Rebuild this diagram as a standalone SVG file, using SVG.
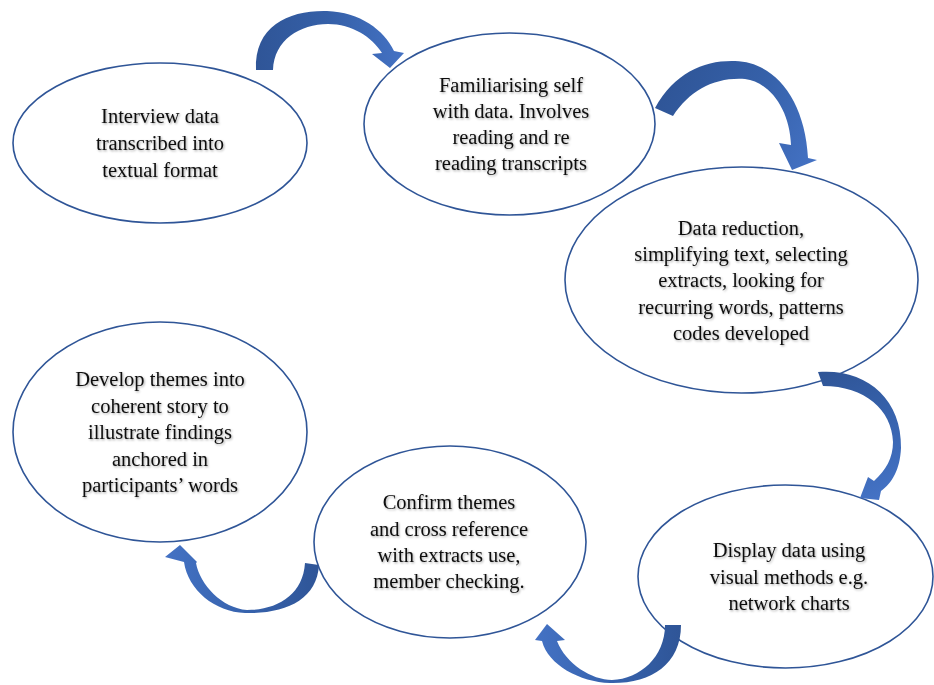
<svg xmlns="http://www.w3.org/2000/svg" width="934" height="685" viewBox="0 0 934 685">
  <style>
    .stage { fill: #ffffff; stroke: #2f5597; stroke-width: 1.6; }
    .label { font-family: "Liberation Serif", "Times New Roman", serif; font-size: 20.5px; fill: #111111; text-anchor: middle; filter: url(#soft); }
    .arrow { stroke: none; }
  </style>
  <defs>
    <filter id="soft" x="-10%" y="-30%" width="120%" height="160%">
      <feDropShadow dx="1" dy="1.2" stdDeviation="0.8" flood-color="#000000" flood-opacity="0.35"/>
    </filter>
    <linearGradient id="g1" gradientUnits="userSpaceOnUse" x1="256" y1="40" x2="404" y2="40">
      <stop offset="0" stop-color="#2f5597"/>
      <stop offset="0.5" stop-color="#3560a8"/>
      <stop offset="1" stop-color="#4472c4"/>
    </linearGradient>
    <linearGradient id="g2" gradientUnits="userSpaceOnUse" x1="660" y1="90" x2="815" y2="165">
      <stop offset="0" stop-color="#2f5597"/>
      <stop offset="0.5" stop-color="#3560a8"/>
      <stop offset="1" stop-color="#4472c4"/>
    </linearGradient>
    <linearGradient id="g3" gradientUnits="userSpaceOnUse" x1="820" y1="375" x2="870" y2="500">
      <stop offset="0" stop-color="#2f5597"/>
      <stop offset="0.5" stop-color="#3763ae"/>
      <stop offset="1" stop-color="#4472c4"/>
    </linearGradient>
    <linearGradient id="g4" gradientUnits="userSpaceOnUse" x1="681" y1="650" x2="535" y2="650">
      <stop offset="0" stop-color="#2f5597"/>
      <stop offset="0.5" stop-color="#3763ae"/>
      <stop offset="1" stop-color="#4472c4"/>
    </linearGradient>
    <linearGradient id="g5" gradientUnits="userSpaceOnUse" x1="319" y1="580" x2="165" y2="580">
      <stop offset="0" stop-color="#2f5597"/>
      <stop offset="0.5" stop-color="#3763ae"/>
      <stop offset="1" stop-color="#4472c4"/>
    </linearGradient>
  </defs>

  <rect width="934" height="685" fill="#ffffff"/>

  <g id="node-transcribe">
    <ellipse class="stage" cx="160" cy="143" rx="147" ry="80"/>
    <text class="label" x="160" y="123">Interview data</text>
    <text class="label" x="160" y="150">transcribed into</text>
    <text class="label" x="160" y="177">textual format</text>
  </g>

  <g id="node-familiarise">
    <ellipse class="stage" cx="509.5" cy="124" rx="145.5" ry="91"/>
    <text class="label" x="511" y="91.5">Familiarising self</text>
    <text class="label" x="511" y="117.5">with data. Involves</text>
    <text class="label" x="511" y="143.5">reading and re</text>
    <text class="label" x="511" y="169.5">reading transcripts</text>
  </g>

  <g id="node-reduction">
    <ellipse class="stage" cx="741.5" cy="280" rx="176.5" ry="113"/>
    <text class="label" x="741" y="235">Data reduction,</text>
    <text class="label" x="741" y="261">simplifying text, selecting</text>
    <text class="label" x="741" y="287">extracts, looking for</text>
    <text class="label" x="741" y="313.5">recurring words, patterns</text>
    <text class="label" x="741" y="340">codes developed</text>
  </g>

  <g id="node-develop">
    <ellipse class="stage" cx="160" cy="432" rx="147" ry="110"/>
    <text class="label" x="160" y="386">Develop themes into</text>
    <text class="label" x="160" y="412.5">coherent story to</text>
    <text class="label" x="160" y="439">illustrate findings</text>
    <text class="label" x="160" y="465.5">anchored in</text>
    <text class="label" x="160" y="492">participants’ words</text>
  </g>

  <g id="node-confirm">
    <ellipse class="stage" cx="450" cy="542" rx="136" ry="96"/>
    <text class="label" x="449" y="509">Confirm themes</text>
    <text class="label" x="449" y="536">and cross reference</text>
    <text class="label" x="449" y="562">with extracts use,</text>
    <text class="label" x="449" y="588">member checking.</text>
  </g>

  <g id="node-display">
    <ellipse class="stage" cx="785.5" cy="576.5" rx="147.5" ry="91.5"/>
    <text class="label" x="789" y="557">Display data using</text>
    <text class="label" x="789" y="583.5">visual methods e.g.</text>
    <text class="label" x="789" y="610">network charts</text>
  </g>

  <!-- curved block arrows between stages -->
  <g id="connectors">
    <path class="arrow" fill="url(#g1)" d="M256,70 C254,25 290,10 327,11 C360,12 384,30 394,51 L404,53 L390,68 L372,54 L382,53 C372,37 352,24 328,24 C300,24 274,40 273,70 Z"/>
    <path class="arrow" fill="url(#g2)" d="M655,108 C675,72 705,60 735,61 C775,62 805,100 808,158 L817,160 L792,170 L779,143 L791,145 C790,110 770,82 745,79 C715,77 690,90 673,116 Z"/>
    <path class="arrow" fill="url(#g3)" d="M818,372 C865,368 902,398 901,448 C900,470 892,483 881,491 L879,500 L860,498 L868,477 L874,481 C886,470 893,458 893,442 C892,410 865,386 823,386 Z"/>
    <path class="arrow" fill="url(#g4)" d="M681,625 C681,665 650,684 610,683 C580,682 548,665 542,641 L535,640 L547,624 L565,640 L557,641 C566,664 592,680 612,680 C640,679 665,657 665,625 Z"/>
    <path class="arrow" fill="url(#g5)" d="M319,565 C317,600 285,614 245,613 C215,612 188,590 184,562 L165,557 L180,545 L197,562 L196,563 C200,585 222,608 247,610 C277,610 303,595 305,563 Z"/>
  </g>
</svg>
